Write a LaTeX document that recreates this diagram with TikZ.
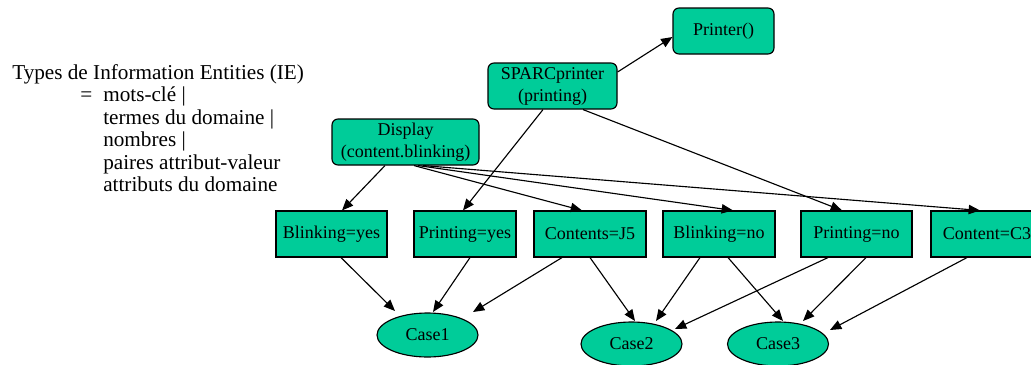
\documentclass[tikz,border=0pt]{standalone}
\usepackage{fontspec}
\setmainfont{Liberation Serif}
\usetikzlibrary{arrows.meta,calc,shapes.geometric}
\definecolor{nodegreen}{HTML}{00CC99}
\tikzset{
  sz/.style 2 args={minimum width=#1*0.75pt, minimum height=#2*0.75pt},
  rbox/.style={draw, line width=0.85pt, fill=nodegreen, rounded corners=4.5pt,
    inner sep=0pt, align=center, font=\fontsize{13.5}{16.5}\selectfont},
  sbox/.style={draw, line width=0.85pt, fill=nodegreen, inner sep=0pt,
    font=\fontsize{13.5}{16.5}\selectfont, sz={112}{46}},
  cbox/.style={draw, line width=0.85pt, fill=nodegreen, ellipse, inner sep=0pt,
    font=\fontsize{13.5}{16.5}\selectfont, sz={101}{44}},
  lbl/.style={anchor=base west, inner sep=0pt, font=\fontsize{15.9}{18}\selectfont},
  arr/.style={-{Triangle[length=8.5pt,width=7pt]}, line width=0.85pt},
}
\begin{document}
\begin{tikzpicture}[x=0.75pt,y=-0.75pt]
\useasboundingbox (0,0) rectangle (1031,364);

% legend text
\node[lbl] (ie0) at (12,79) {Types de Information Entities (IE)};
\node[lbl] (ieq) at (80,101.5) {=};
\node[lbl] (ie1) at (103,101.5) {mots-clé |};
\node[lbl] (ie2) at (103,124) {termes du domaine |};
\node[lbl] (ie3) at (103,146.5) {nombres |};
\node[lbl] (ie4) at (103,169) {paires attribut-valeur};
\node[lbl] (ie5) at (103,191.5) {attributs du domaine};

% objects
\node[rbox, sz={101}{46}] (printer) at (723.5,31) {Printer()};
\node[rbox, sz={129}{46}] (sparc) at (552.5,86) {SPARCprinter\\(printing)};
\node[rbox, sz={147}{46}] (display) at (405.5,142) {Display\\(content.blinking)};

% attribute values
\node[sbox, sz={111}{46}] (byes) at (331.5,234) {Blinking=yes};
\node[sbox, sz={102}{46}] (pyes) at (465,234) {Printing=yes};
\node[sbox] (cj5) at (590,234) {Contents=J5};
\node[sbox] (bno) at (719,234) {Blinking=no};
\node[sbox, sz={111}{46}] (pno) at (856.5,234) {Printing=no};
\node[sbox] (c3) at (987,234) {Content=C3};

% cases
\node[cbox] (case1) at (427.5,335) {Case1};
\node[cbox] (case2) at (631.5,344) {Case2};
\node[cbox] (case3) at (778,344) {Case3};

% object links
\draw[arr] ($(sparc.east)+(0,-14)$) -- ($(printer.west)+(0,6)$);
\draw[arr] ($(sparc.south)+(-9.5,0)$) -- ($(pyes.north)+(-2,0)$);
\draw[arr] ($(sparc.south)+(30.5,0)$) -- ($(pno.north)+(-14.5,0)$);
\draw[arr] ($(display.south)+(-20.5,0)$) -- ($(byes.north)+(10.5,0)$);
\draw[arr] ($(display.south)+(8.5,0)$) -- ($(cj5.north)+(-8,0)$);
\draw[arr] ($(display.south)+(12.5,0)$) -- ($(bno.north)+(14,0)$);
\draw[arr] ($(display.south)+(17.5,0)$) -- ($(c3.north)+(-7,0)$);

% value-to-case links
\draw[arr] ($(byes.south)+(9.5,0)$) -- ($(case1)+(-32.5,-24)$);
\draw[arr] ($(pyes.south)+(5,0)$) -- ($(case1)+(5.5,-23)$);
\draw[arr] ($(cj5.south)+(-28,0)$) -- ($(case1)+(45.5,-23)$);
\draw[arr] (cj5.south) -- ($(case2)+(3.5,-23)$);
\draw[arr] ($(bno.south)+(-19,0)$) -- ($(case2)+(24.5,-23)$);
\draw[arr] ($(pno.south)+(-28.5,0)$) -- ($(case2)+(43.5,-15)$);
\draw[arr] ($(bno.south)+(9,0)$) -- ($(case3)+(5,-23)$);
\draw[arr] ($(pno.south)+(9.5,0)$) -- ($(case3)+(25,-23)$);
\draw[arr] ($(c3.south)+(-20,0)$) -- ($(case3)+(52,-14)$);
\end{tikzpicture}
\end{document}
